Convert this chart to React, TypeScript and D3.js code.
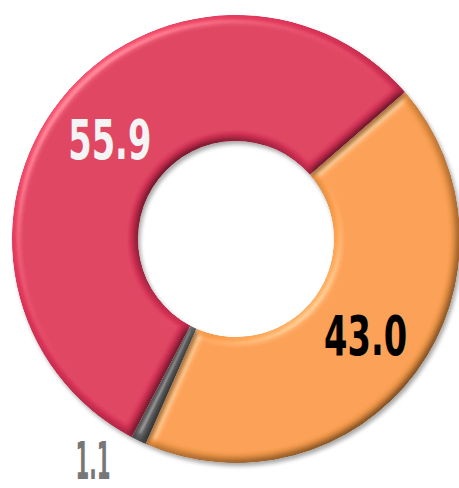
import React from "react";
import * as d3 from "d3";

const labels = ["43.0", "1.1", "55.9"];
const values = [43.0, 1.1, 55.9];
const colors = ["#F99D4B", "#666666", "#DE3459"];
const textColors = ["#000000", "#777777", "#F4F4F4"];

const width = 459;
const height = 488;

const App = () => {
  const cx = 236;
  const cy = 239;
  const outerR = 224;
  const innerR = 98;
  const start = (49 * Math.PI) / 180;

  const pie = d3
    .pie<number>()
    .sort(null)
    .value((d) => d)
    .startAngle(start)
    .endAngle(start + 2 * Math.PI);
  const arcs = pie(values);

  const arc = d3.arc<d3.PieArcDatum<number>>().innerRadius(innerR).outerRadius(outerR);
  const outside = d3.arc<d3.PieArcDatum<number>>().innerRadius(262).outerRadius(262);

  const fontSize = 56;
  const cap = fontSize * 0.73;

  return (
    <svg width={width} height={height} style={{ position: "absolute", left: 0, top: 0 }}>
      <defs>
        <filter id="bevel" x="-15%" y="-15%" width="130%" height="130%">
          <feGaussianBlur in="SourceAlpha" stdDeviation="4" result="blur" />
          <feDiffuseLighting in="blur" surfaceScale="5" diffuseConstant="1" lightingColor="#fff" result="diff">
            <feDistantLight azimuth="225" elevation="55" />
          </feDiffuseLighting>
          <feComposite in="SourceGraphic" in2="diff" operator="arithmetic" k1="1.2" k2="0" k3="0" k4="0" result="shaded" />
          <feSpecularLighting in="blur" surfaceScale="5" specularConstant="0.6" specularExponent="25" lightingColor="#fff" result="spec">
            <feDistantLight azimuth="225" elevation="45" />
          </feSpecularLighting>
          <feComposite in="spec" in2="SourceAlpha" operator="in" result="specIn" />
          <feComposite in="shaded" in2="specIn" operator="arithmetic" k1="0" k2="1" k3="0.35" k4="0" result="lit" />
          <feComposite in="lit" in2="SourceAlpha" operator="in" result="final" />
          <feGaussianBlur in="SourceAlpha" stdDeviation="2" result="sblur" />
          <feOffset in="sblur" dx="2" dy="3" result="soff" />
          <feComponentTransfer in="soff" result="shadow">
            <feFuncA type="linear" slope="0.35" />
          </feComponentTransfer>
          <feMerge>
            <feMergeNode in="shadow" />
            <feMergeNode in="final" />
          </feMerge>
        </filter>
      </defs>
      <g transform={`translate(${cx},${cy})`}>
        {arcs.map((a, i) => (
          <path key={i} d={arc(a) ?? ""} fill={colors[i]} filter="url(#bevel)" />
        ))}
        {arcs.map((a, i) => {
          const small = a.endAngle - a.startAngle < 0.2;
          const [x, y] = small ? outside.centroid(a) : arc.centroid(a);
          return (
            <text
              key={i}
              x={small ? x - 29 : x}
              y={(small ? y - 16 : y) + cap / 2}
              textAnchor="middle"
              fill={textColors[i]}
              fontFamily="'DejaVu Sans Condensed', 'DejaVu Sans', sans-serif"
              fontWeight="bold"
              fontSize={small ? 52 : fontSize}
              textLength={small ? 35 : 83}
              lengthAdjust="spacingAndGlyphs"
            >
              {labels[i]}
            </text>
          );
        })}
      </g>
    </svg>
  );
};

export default App;
